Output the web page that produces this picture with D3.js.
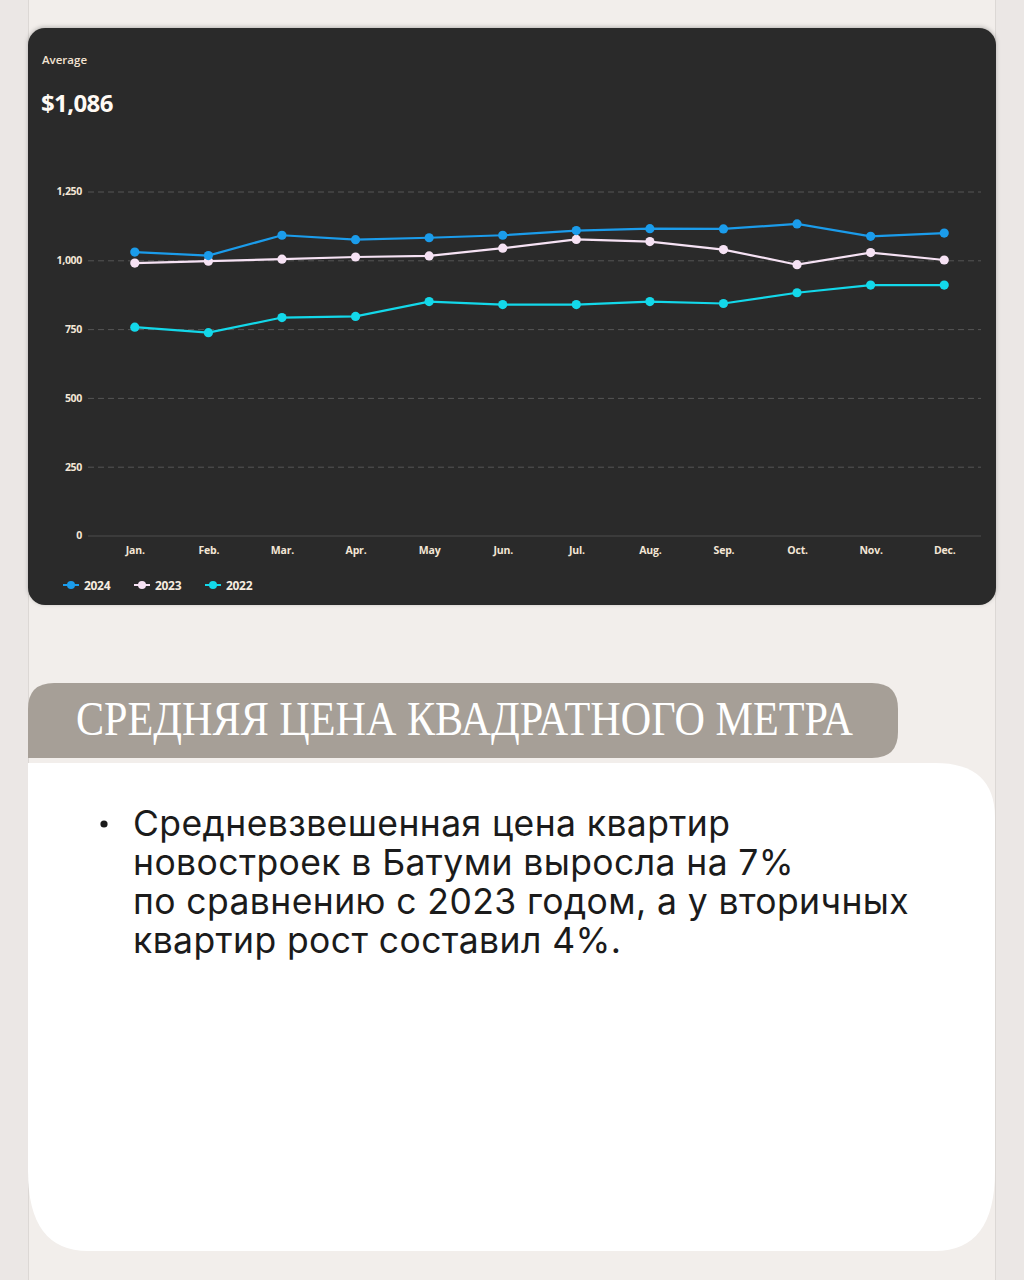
<!DOCTYPE html>
<html><head><meta charset="utf-8">
<script src="https://cdn.jsdelivr.net/npm/d3@7/dist/d3.min.js"></script>
<style>
html,body{margin:0;padding:0;background:#ebe7e5;}
svg{display:block;}
</style></head>
<body>
<svg id="c" width="1024" height="1280"></svg>
<script>
const months = ["Jan.","Feb.","Mar.","Apr.","May","Jun.","Jul.","Aug.","Sep.","Oct.","Nov.","Dec."];
const yTicks = [0,250,500,750,1000,1250];
const seriesNames = ["2024","2023","2022"];
const v2024 = [1030,1017,1091,1075,1082,1091,1108,1115,1114,1132,1087,1099];
const v2023 = [990,997,1004,1012,1016,1044,1076,1068,1039,984,1028,1001];
const v2022 = [757,737,792,796,850,839,839,850,843,882,910,910];
const seriesColors = ["#1b9ceb","#f6e2f4","#13d8ea"];
const averageLabel = "Average";
const averageValue = "$1,086";
const titleText = "СРЕДНЯЯ ЦЕНА КВАДРАТНОГО МЕТРА";
const bodyLines = ["Средневзвешенная цена квартир","новостроек в Батуми выросла на 7%","по сравнению с 2023 годом, а у вторичных","квартир рост составил 4%."];

const svg = d3.select("#c");
svg.append("rect").attr("x",0).attr("y",0).attr("width",1024).attr("height",1280).attr("fill","#ebe7e5");
svg.append("rect").attr("x",28).attr("y",0).attr("width",967).attr("height",1280).attr("fill","#f2eeeb");
svg.append("line").attr("x1",28.5).attr("x2",28.5).attr("y1",0).attr("y2",1280).attr("stroke","#dcd8d5");
svg.append("line").attr("x1",995.5).attr("x2",995.5).attr("y1",0).attr("y2",1280).attr("stroke","#dcd8d5");

const defs = svg.append("defs");
const f = defs.append("filter").attr("id","sh").attr("x","-5%").attr("y","-5%").attr("width","110%").attr("height","110%");
f.append("feDropShadow").attr("dx",0).attr("dy",-1).attr("stdDeviation",2).attr("flood-color","#000").attr("flood-opacity",0.25);
svg.append("rect").attr("x",28).attr("y",28).attr("width",968).attr("height",577).attr("rx",17).attr("fill","#2b2b2b").attr("filter","url(#sh)");

svg.append("text").attr("x",42).attr("y",64).text(averageLabel)
  .attr("font-family","'Open Sans',sans-serif").attr("font-weight",600).attr("font-size",11.5).attr("fill","#f3e3d2");
svg.append("text").attr("x",41).attr("y",112).text(averageValue)
  .attr("font-family","'Open Sans',sans-serif").attr("font-weight",700).attr("font-size",24).attr("letter-spacing",-0.6).attr("fill","#fffaf4");

const x = d3.scalePoint().domain(months).range([98,981]).padding(0.5);
const y = d3.scaleLinear().domain([0,1250]).range([535.5,191.5]);

const g = svg.append("g");
const yAxis = d3.axisLeft(y).tickValues(yTicks).tickFormat(d3.format(",")).tickSize(-(981-88)).tickPadding(6);
const ya = g.append("g").attr("transform","translate(88,0)").call(yAxis);
ya.select(".domain").remove();
ya.selectAll(".tick line").attr("stroke-width",1)
  .attr("stroke-dasharray",d=>d===0?null:"6,4").attr("stroke",d=>d===0?"#4c4c4c":"#555");
ya.selectAll(".tick text").attr("font-family","'Open Sans',sans-serif").attr("font-weight",700).attr("font-size",10.5)
  .attr("fill","#f3e6d6").attr("x",-6).attr("letter-spacing",-0.3);

const xAxis = d3.axisBottom(x).tickSize(0).tickPadding(9);
const xa = g.append("g").attr("transform","translate(0,538)").call(xAxis);
xa.select(".domain").remove();
xa.selectAll(".tick text").attr("font-family","'Open Sans',sans-serif").attr("font-weight",700).attr("font-size",10.5)
  .attr("fill","#f3e6d6").attr("letter-spacing",-0.2);

const allSeries = [v2024,v2023,v2022];
const line = d3.line().x((d,i)=>x(months[i])).y(d=>y(d));
[2,1,0].forEach(k=>{
  g.append("path").datum(allSeries[k]).attr("d",line).attr("fill","none")
    .attr("stroke",seriesColors[k]).attr("stroke-width",2.2);
  g.selectAll(null).data(allSeries[k]).enter().append("circle")
    .attr("cx",(d,i)=>x(months[i])).attr("cy",d=>y(d)).attr("r",4.6).attr("fill",seriesColors[k]);
});

const legX = [63,134,205];
seriesNames.forEach((n,i)=>{
  const lg = svg.append("g").attr("transform",`translate(${legX[i]},585)`);
  lg.append("line").attr("x1",0).attr("x2",16).attr("y1",0).attr("y2",0).attr("stroke",seriesColors[i]).attr("stroke-width",2);
  lg.append("circle").attr("cx",8).attr("cy",0).attr("r",4).attr("fill",seriesColors[i]);
  lg.append("text").attr("x",21).attr("y",4.5).text(n).attr("font-family","'Open Sans',sans-serif").attr("font-weight",700)
    .attr("font-size",12).attr("fill","#f6ece0").attr("letter-spacing",-0.3);
});

const bx0=28, bx1=898, by0=683, by1=758, r=26;
svg.append("path").attr("d",`M${bx0},${by1} L${bx0},${by0+r} Q${bx0},${by0} ${bx0+r},${by0} L${bx1-r},${by0} Q${bx1},${by0} ${bx1},${by0+r} L${bx1},${by1-r} Q${bx1},${by1} ${bx1-r},${by1} Z`)
  .attr("fill","#a69f97");
svg.append("text").attr("x",76).attr("y",735).text(titleText)
  .attr("font-family","'Liberation Serif',serif").attr("font-size",48).attr("fill","#ffffff")
  .attr("textLength",777).attr("lengthAdjust","spacingAndGlyphs");

const wx0=28, wx1=995, wy0=763, wy1=1251;
svg.append("path").attr("d",`M${wx0},${wy0} L${wx1-60},${wy0} Q${wx1},${wy0} ${wx1},${wy0+55} L${wx1},${wy1-80} Q${wx1},${wy1} ${wx1-60},${wy1} L${wx0+60},${wy1} Q${wx0},${wy1} ${wx0},${wy1-80} Z`)
  .attr("fill","#ffffff");

svg.append("circle").attr("cx",104).attr("cy",824).attr("r",3.6).attr("fill","#1b1b1b");
bodyLines.forEach((t,i)=>{
  svg.append("text").attr("x",133).attr("y",836+i*39).text(t)
    .attr("font-family","Inter,sans-serif").attr("font-size",35.5).attr("fill","#1b1b1b").attr("letter-spacing",0.4);
});
</script>
</body></html>
